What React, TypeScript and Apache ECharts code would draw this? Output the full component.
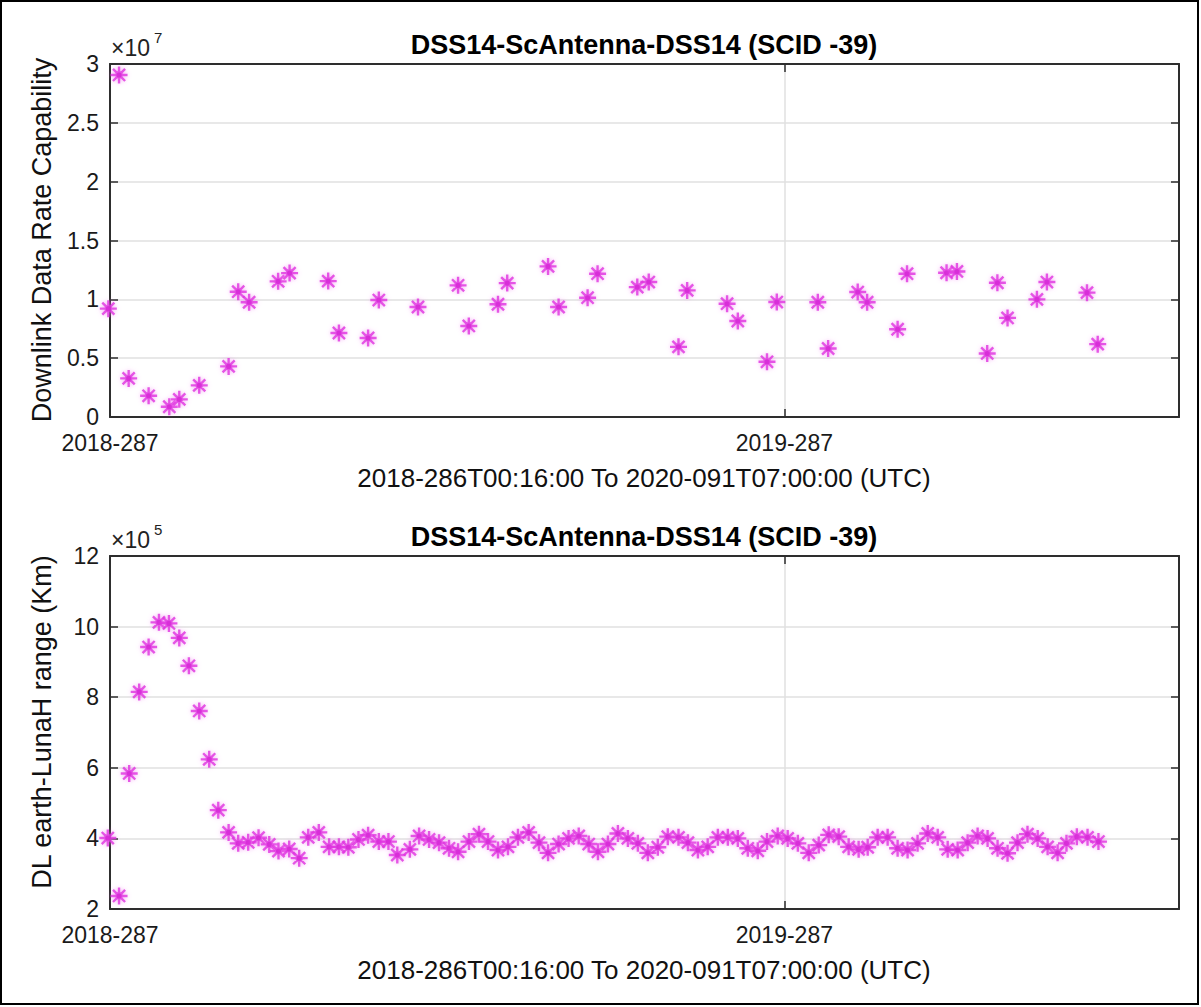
import React, { useEffect, useRef } from "react";
import * as echarts from "echarts";

// x positions are days since 2018-287 (UTC)
const xTickDays = [0, 365];
const xTickLabels = ["2018-287", "2019-287"];
const xMaxDays = 578.6;

const titleText = "DSS14-ScAntenna-DSS14 (SCID -39)";
const xAxisTitle = "2018-286T00:16:00 To 2020-091T07:00:00 (UTC)";
const rateAxisTitle = "Downlink Data Rate Capability";
const rangeAxisTitle = "DL earth-LunaH range (Km)";

// Downlink data rate capability (bits/s)
const rateDays = [-0.9, 4.9, 10.1, 20.9, 32.1, 37.5, 48.3, 64.2, 69.4, 75.3, 91.0, 97.2, 118.1, 123.9, 139.7, 145.5, 166.7, 188.4, 194.2, 210.0, 215.0, 237.1, 242.8, 258.5, 263.9, 285.4, 291.6, 307.7, 312.4, 334.0, 339.8, 355.6, 360.9, 383.1, 388.7, 404.7, 409.8, 426.3, 431.4, 452.8, 458.4, 474.8, 480.3, 485.8, 501.7, 507.1, 528.8, 534.6];
const rateValues = [9.21e6, 2.907e7, 3.28e6, 1.8e6, 8.7e5, 1.5e6, 2.69e6, 4.3e6, 1.065e7, 9.75e6, 1.153e7, 1.223e7, 1.155e7, 7.14e6, 6.72e6, 9.94e6, 9.35e6, 1.119e7, 7.74e6, 9.58e6, 1.138e7, 1.28e7, 9.35e6, 1.014e7, 1.218e7, 1.104e7, 1.147e7, 5.96e6, 1.076e7, 9.63e6, 8.16e6, 4.69e6, 9.77e6, 9.75e6, 5.82e6, 1.062e7, 9.75e6, 7.46e6, 1.218e7, 1.226e7, 1.237e7, 5.4e6, 1.141e7, 8.42e6, 1.0e7, 1.147e7, 1.057e7, 6.19e6];
const rateTicks = [0, 5e6, 1e7, 1.5e7, 2e7, 2.5e7, 3e7];

// DL earth-LunaH range (km)
const rangeDays = [-1.2, 4.9, 10.4, 15.8, 20.9, 26.5, 31.9, 37.5, 42.7, 48.3, 53.7, 58.6, 64.2, 69.4, 74.8, 80.4, 86.2, 91.2, 97.0, 102.4, 107.3, 113.0, 118.6, 123.9, 129.0, 134.5, 139.7, 145.5, 150.7, 155.5, 162.3, 167.3, 172.7, 178.1, 183.5, 188.4, 194.3, 199.7, 204.6, 210.0, 215.4, 220.8, 226.6, 232.2, 237.1, 242.8, 248.2, 253.7, 259.1, 264.1, 269.5, 274.9, 280.3, 285.7, 291.1, 296.5, 301.9, 307.7, 312.8, 318.2, 323.5, 329.0, 334.4, 339.8, 345.2, 350.6, 355.6, 361.4, 366.8, 372.3, 378.2, 383.6, 389.0, 394.4, 399.8, 405.2, 410.1, 415.5, 420.9, 426.3, 431.7, 437.1, 442.6, 448.0, 453.4, 458.8, 464.2, 469.6, 475.0, 480.4, 485.8, 491.2, 496.6, 502.1, 507.5, 512.9, 517.7, 523.3, 529.1, 535.0];
const rangeValues = [401000, 237000, 584000, 815000, 942000, 1012000, 1009000, 968000, 889000, 761000, 624000, 480000, 417000, 386000, 389000, 402000, 383000, 364000, 370000, 344000, 403000, 417000, 376000, 376000, 375000, 397000, 409000, 391000, 391000, 353000, 369000, 407000, 397000, 388000, 372000, 362000, 391000, 412000, 391000, 367000, 376000, 403000, 417000, 388000, 359000, 384000, 400000, 407000, 384000, 362000, 384000, 414000, 400000, 386000, 359000, 375000, 405000, 403000, 388000, 367000, 376000, 403000, 403000, 400000, 372000, 365000, 391000, 407000, 400000, 386000, 359000, 381000, 410000, 405000, 376000, 369000, 375000, 403000, 403000, 372000, 367000, 386000, 414000, 403000, 369000, 367000, 388000, 407000, 400000, 372000, 358000, 388000, 412000, 400000, 376000, 359000, 386000, 405000, 403000, 391000];
const rangeTicks = [200000, 400000, 600000, 800000, 1000000, 1200000];

const FONT = "'Liberation Sans', Arial, Helvetica, sans-serif";
const AXIS_COLOR = "#2e2e2e";
const GRID_COLOR = "#e0e0e0";

const ASTERISK =
  "path://M0,-8L0,8M-8,0L8,0M-5.7,-5.7L5.7,5.7M-5.7,5.7L5.7,-5.7M-2.4,0A2.4,2.4,0,1,0,2.4,0A2.4,2.4,0,1,0,-2.4,0Z";

const PLOT_LEFT = 110;
const PLOT_WIDTH = 1069;
const PLOT_HEIGHT = 353;
const TOPS = [64, 556];

function xLabel(v: number): string {
  const i = xTickDays.indexOf(v);
  return i >= 0 ? xTickLabels[i] : "";
}

function App() {
  const ref = useRef<HTMLDivElement>(null);

  useEffect(() => {
    if (!ref.current) return;
    const chart = echarts.init(ref.current, undefined, { renderer: "svg" });

    const xAxes: any[] = [];
    const yAxes: any[] = [];
    [0, 1].forEach((g) => {
      ["bottom", "top"].forEach((pos) => {
        xAxes.push({
          type: "value",
          gridIndex: g,
          position: pos,
          min: 0,
          max: xMaxDays,
          interval: xTickDays[1] - xTickDays[0],
          axisLine: { show: true, onZero: false, lineStyle: { color: AXIS_COLOR, width: 2 } },
          axisTick: { show: true, inside: true, length: 8, lineStyle: { color: AXIS_COLOR, width: 1.5 } },
          axisLabel: {
            show: pos === "bottom",
            formatter: (v: number) => xLabel(v),
            fontSize: 23,
            fontFamily: FONT,
            color: "#1a1a1a",
            margin: 14,
            showMinLabel: true,
            showMaxLabel: true,
          },
          splitLine: { show: pos === "bottom", lineStyle: { color: GRID_COLOR, width: 1.5 } },
        });
      });
      const ticks = g === 0 ? rateTicks : rangeTicks;
      const scale = g === 0 ? 1e7 : 1e5;
      ["left", "right"].forEach((pos) => {
        yAxes.push({
          type: "value",
          gridIndex: g,
          position: pos,
          min: ticks[0],
          max: ticks[ticks.length - 1],
          interval: ticks[1] - ticks[0],
          axisLine: { show: true, onZero: false, lineStyle: { color: AXIS_COLOR, width: 2 } },
          axisTick: { show: true, inside: true, length: 8, lineStyle: { color: AXIS_COLOR, width: 1.5 } },
          axisLabel: {
            show: pos === "left",
            formatter: (v: number) => String(Math.round((v / scale) * 100) / 100),
            fontSize: 23,
            fontFamily: FONT,
            color: "#1a1a1a",
            margin: 11,
          },
          splitLine: { show: pos === "left", lineStyle: { color: GRID_COLOR, width: 1.5 } },
        });
      });
    });

    const markerStyle = {
      color: "#b000b0",
      borderColor: "#e030e0",
      borderWidth: 2.4,
      shadowBlur: 4,
      shadowColor: "rgba(240,110,240,0.7)",
    };

    const graphics: any[] = [
      {
        type: "rect",
        shape: { x: 1, y: 1, width: 1197, height: 1003 },
        style: { fill: "none", stroke: "#000", lineWidth: 2 },
        silent: true,
      },
    ];
    const yNames = [rateAxisTitle, rangeAxisTitle];
    const yNameCenters = [240, 722];
    const exps = ["7", "5"];
    TOPS.forEach((top, i) => {
      graphics.push({
        type: "text",
        x: 644,
        y: top - 19,
        style: {
          text: titleText,
          font: `bold 27px ${FONT}`,
          fill: "#000",
          align: "center",
          verticalAlign: "middle",
        },
      });
      graphics.push({
        type: "text",
        x: 644,
        y: top + PLOT_HEIGHT + 61,
        style: {
          text: xAxisTitle,
          font: `26px ${FONT}`,
          fill: "#111",
          align: "center",
          verticalAlign: "middle",
        },
      });
      graphics.push({
        type: "text",
        x: 42,
        y: yNameCenters[i],
        rotation: Math.PI / 2,
        style: {
          text: yNames[i],
          font: `27px ${FONT}`,
          fill: "#111",
          align: "center",
          verticalAlign: "middle",
        },
      });
      graphics.push({
        type: "text",
        x: 111,
        y: top - 16,
        style: {
          text: "×10",
          font: `23px ${FONT}`,
          fill: "#222",
          align: "left",
          verticalAlign: "middle",
        },
      });
      graphics.push({
        type: "text",
        x: 154,
        y: top - 27,
        style: {
          text: exps[i],
          font: `15px ${FONT}`,
          fill: "#222",
          align: "left",
          verticalAlign: "middle",
        },
      });
    });

    chart.setOption({
      animation: false,
      backgroundColor: "#ffffff",
      grid: TOPS.map((top) => ({
        left: PLOT_LEFT,
        top,
        width: PLOT_WIDTH,
        height: PLOT_HEIGHT,
        containLabel: false,
        outerBoundsMode: "none",
        show: false,
      })),
      xAxis: xAxes,
      yAxis: yAxes,
      series: [
        {
          type: "scatter",
          xAxisIndex: 0,
          yAxisIndex: 0,
          clip: false,
          symbol: ASTERISK,
          symbolSize: 17,
          itemStyle: markerStyle,
          data: rateDays.map((d, i) => [d, rateValues[i]]),
        },
        {
          type: "scatter",
          xAxisIndex: 2,
          yAxisIndex: 2,
          clip: false,
          symbol: ASTERISK,
          symbolSize: 17,
          itemStyle: markerStyle,
          data: rangeDays.map((d, i) => [d, rangeValues[i]]),
        },
      ],
      graphic: graphics,
    });

    return () => chart.dispose();
  }, []);

  return (
    <div
      ref={ref}
      style={{ position: "absolute", left: 0, top: 0, width: 1201, height: 1007, background: "#fff" }}
    />
  );
}

export default App;
